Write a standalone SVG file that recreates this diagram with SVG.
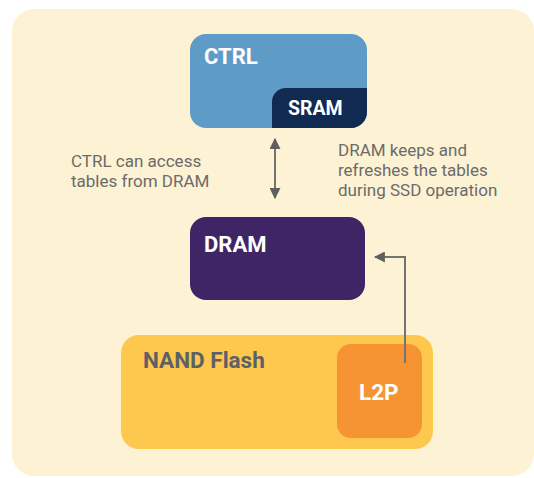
<svg xmlns="http://www.w3.org/2000/svg" width="534" height="478" viewBox="0 0 534 478">
<defs>
<style>
.lbl{font-family:Roboto,"Liberation Sans",sans-serif;font-weight:bold;fill:#fff}
.note{font-family:Roboto,"Liberation Sans",sans-serif;font-size:17px;fill:#6b6b6b}
.conn{stroke:#737373;stroke-width:2;fill:none}
</style>
<marker id="ah" viewBox="0 0 10 10" refX="9" refY="5" markerWidth="5.5" markerHeight="5.5" orient="auto-start-reverse">
<path d="M0,0 L10,5 L0,10 z" fill="#5f5f5f"/>
</marker>
<clipPath id="ctrlclip"><rect x="190" y="34" width="177" height="94" rx="16"/></clipPath>
</defs>
<rect x="0" y="0" width="534" height="478" fill="#ffffff"/>
<rect x="12" y="9" width="522" height="467" rx="22" fill="#fdf2d3"/>
<g id="ctrl">
<rect x="190" y="34" width="177" height="94" rx="16" fill="#5f9bc7"/>
<text class="lbl" x="204" y="64" font-size="22">CTRL</text>
</g>
<g id="sram" clip-path="url(#ctrlclip)">
<rect x="272" y="88" width="110" height="60" rx="14" fill="#112a52"/>
<text class="lbl" x="288" y="115" font-size="19.5">SRAM</text>
</g>
<g id="dram">
<rect x="190" y="217" width="175" height="83" rx="16" fill="#3f2566"/>
<text class="lbl" x="204" y="252" font-size="22">DRAM</text>
</g>
<g id="nand">
<rect x="121" y="335" width="312" height="114" rx="18" fill="#fec84e"/>
<text class="lbl" x="143" y="368" font-size="22.5" style="fill:#5d6066">NAND Flash</text>
</g>
<g id="l2p">
<rect x="337" y="344" width="85" height="94" rx="14" fill="#f69332"/>
<text class="lbl" x="359" y="400" font-size="22.5">L2P</text>
</g>
<g id="labels">
<text class="note" x="71" y="167">CTRL can access</text>
<text class="note" x="71" y="187">tables from DRAM</text>
<text class="note" x="338" y="156">DRAM keeps and</text>
<text class="note" x="338" y="176">refreshes the tables</text>
<text class="note" x="338" y="196">during SSD operation</text>
</g>
<g id="connectors">
<path class="conn" d="M275,139 L275,198" marker-start="url(#ah)" marker-end="url(#ah)"/>
<path class="conn" d="M405,363 L405,257 L375,257" marker-end="url(#ah)"/>
</g>
</svg>
